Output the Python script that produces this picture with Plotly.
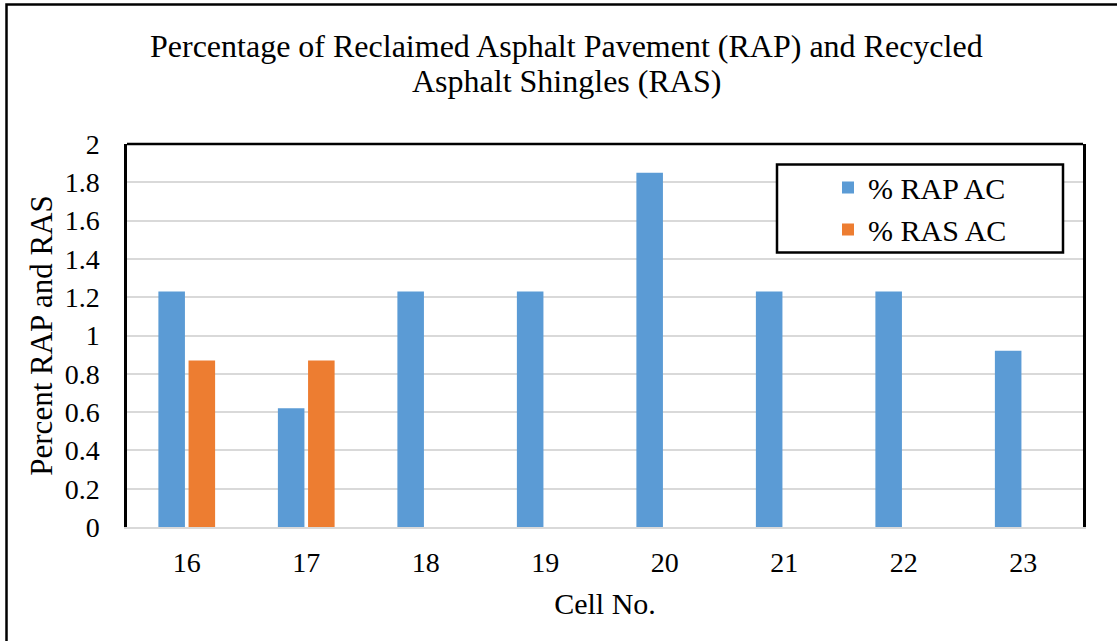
import plotly.graph_objects as go

cells = ["16", "17", "18", "19", "20", "21", "22", "23"]
rap_ac = [1.23, 0.62, 1.23, 1.23, 1.85, 1.23, 1.23, 0.92]
ras_ac = [0.87, 0.87, None, None, None, None, None, None]
y_ticks = [0, 0.2, 0.4, 0.6, 0.8, 1, 1.2, 1.4, 1.6, 1.8, 2]
title_lines = ["Percentage of Reclaimed Asphalt Pavement (RAP) and Recycled",
               "Asphalt Shingles (RAS)"]

FONT = "Liberation Serif, Times New Roman, serif"
W, H = 1117, 641
L, R, T, B = 127, 1083, 143.5, 526.7


def px(x):
    return (x - L) / (R - L)


def py(y):
    return (B - y) / (B - T)


fig = go.Figure()
fig.add_trace(go.Bar(x=cells, y=rap_ac, name="% RAP AC", marker_color="#5B9BD5",
                     marker_line_width=0, legendgroup="a"))
fig.add_trace(go.Bar(x=cells, y=ras_ac, name="% RAS AC", marker_color="#ED7D31",
                     marker_line_width=0, legendgroup="b"))

fig.update_layout(
    width=W, height=H,
    margin=dict(l=L, r=W - R, t=T, b=H - B, autoexpand=False),
    paper_bgcolor="white", plot_bgcolor="white",
    font=dict(family=FONT, size=28, color="black"),
    barmode="group", bargap=0.495, bargroupgap=0.12,
    legend=dict(x=px(828), y=py(161), xanchor="left", yanchor="top",
                bgcolor="rgba(0,0,0,0)", borderwidth=0,
                font=dict(family=FONT, size=30, color="black"),
                tracegroupgap=0, itemwidth=30),
    showlegend=True,
)

for line, yc in zip(title_lines, [45, 80]):
    fig.add_annotation(text=line, xref="paper", yref="paper", x=px(566), y=py(yc),
                       xanchor="center", yanchor="middle", showarrow=False,
                       font=dict(family=FONT, size=32, color="black"))

fig.update_xaxes(type="category", showgrid=False, showline=True, linecolor="#d9d9d9", linewidth=2,
                 ticks="", ticklabelstandoff=9,
                 title=dict(text="Cell No.", standoff=16, font=dict(family=FONT, size=30)),
                 tickfont=dict(family=FONT, size=28))
fig.update_yaxes(range=[0, 2], tickvals=y_ticks, showgrid=True, gridcolor="#d9d9d9", gridwidth=2,
                 zeroline=False, showline=True, mirror=True, linecolor="black", linewidth=2.5,
                 ticks="", ticklabelstandoff=19,
                 title=dict(text="Percent RAP and RAS", standoff=3, font=dict(family=FONT, size=31)),
                 tickfont=dict(family=FONT, size=28))

# top border of plot area
fig.add_shape(type="line", xref="paper", yref="paper", x0=0, x1=1, y0=1, y1=1,
              line=dict(color="black", width=2.5), layer="above")
# legend box
fig.add_shape(type="rect", xref="paper", yref="paper",
              x0=px(777), x1=px(1063), y0=py(252), y1=py(164),
              fillcolor="white", line=dict(color="black", width=2.5), layer="above")
# outer chart border (left and top visible)
fig.add_shape(type="rect", xref="paper", yref="paper",
              x0=px(6.5), x1=px(1130), y0=py(660), y1=py(4),
              line=dict(color="black", width=2.5), layer="above")

fig.write_html("out.html", config={"displayModeBar": False},
               post_script="document.body.style.margin='0';")
